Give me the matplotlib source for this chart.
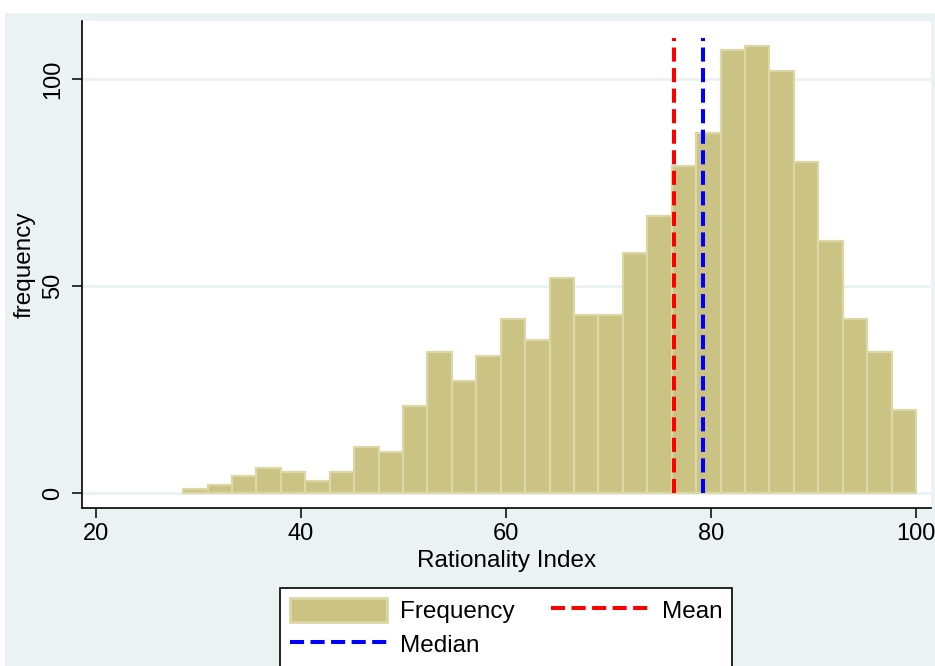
import numpy as np
import matplotlib
matplotlib.use("Agg")
import matplotlib.pyplot as plt
from matplotlib.patches import Rectangle, Patch
from matplotlib.lines import Line2D

# histogram counts (30 bins from ~28.5 to 100)
counts = [1, 2, 4, 6, 5, 3, 5, 11, 10, 21,
          34, 27, 33, 42, 37, 52, 43, 43, 58, 67,
          79, 87, 107, 108, 102, 80, 61, 42, 34, 20]
bin_lo, bin_hi = 28.5, 100
mean_val = 76.4
median_val = 79.2
line_top = 110

xticks = [20, 40, 60, 80, 100]
yticks = [0, 50, 100]

bg = "#EAF2F3"
fill = "#CBC383"
edge = "#DCD7A6"

plt.rcParams['font.family'] = ['Liberation Sans', 'DejaVu Sans']

fig = plt.figure(figsize=(9.35, 6.66), dpi=100)
fig.patch.set_facecolor("white")
outer = Rectangle((5 / 935, 0), 1, (666 - 12.7) / 666,
                  transform=fig.transFigure, facecolor=bg,
                  edgecolor="none", zorder=-10)
fig.add_artist(outer)

ax = fig.add_axes([81.7 / 935, (666 - 508) / 666,
                   (930.7 - 81.7) / 935, (508 - 20.7) / 666])
ax.set_facecolor("white")

edges = np.linspace(bin_lo, bin_hi, len(counts) + 1)
ax.bar(edges[:-1], counts, width=np.diff(edges), align="edge",
       color=fill, edgecolor=edge, linewidth=1.6, zorder=2)

dash = (0, (3.5, 1.6))
ax.plot([mean_val, mean_val], [0, line_top], color="red", lw=2.9,
        linestyle=dash, zorder=3)
ax.plot([median_val, median_val], [0, line_top], color="blue", lw=2.9,
        linestyle=dash, zorder=3)

ax.set_xlim(18.6, 101.43)
ax.set_ylim(-3.62, 114.1)
ax.set_xticks(xticks)
ax.set_yticks(yticks)
ax.set_yticklabels([str(t) for t in yticks], rotation=90, va="center")
ax.tick_params(axis="both", labelsize=17, length=7.5, width=1.1,
               color="black", direction="out")
ax.tick_params(axis="y", pad=5)
ax.tick_params(axis="x", pad=3)

for y in yticks:
    ax.axhline(y, color=bg, lw=2, zorder=1)

for s in ["top", "right"]:
    ax.spines[s].set_visible(False)
for s in ["left", "bottom"]:
    ax.spines[s].set_linewidth(1.2)

ax.set_xlabel("Rationality Index", fontsize=17.5, labelpad=4)
ax.set_ylabel("frequency", fontsize=17.5, va="center")
ax.yaxis.set_label_coords(-0.0668, 0.5)

handles = [Patch(facecolor=fill, edgecolor=edge, linewidth=2),
           Line2D([0], [0], color="blue", lw=2.9, linestyle=dash),
           Line2D([0], [0], color="red", lw=2.9, linestyle=dash)]
labels = ["Frequency", "Median", "Mean"]
leg = fig.legend(handles, labels, ncol=2, loc="upper center",
                 bbox_to_anchor=(506 / 935, (666 - 588) / 666),
                 borderaxespad=0,
                 fontsize=17.5, frameon=True, fancybox=False,
                 edgecolor="black", framealpha=1, handlelength=4.0,
                 handleheight=1.15, handletextpad=0.55, columnspacing=1.5,
                 borderpad=0.4, labelspacing=0.35)
leg.get_frame().set_linewidth(1.2)

fig.savefig("out.png", dpi=100)
